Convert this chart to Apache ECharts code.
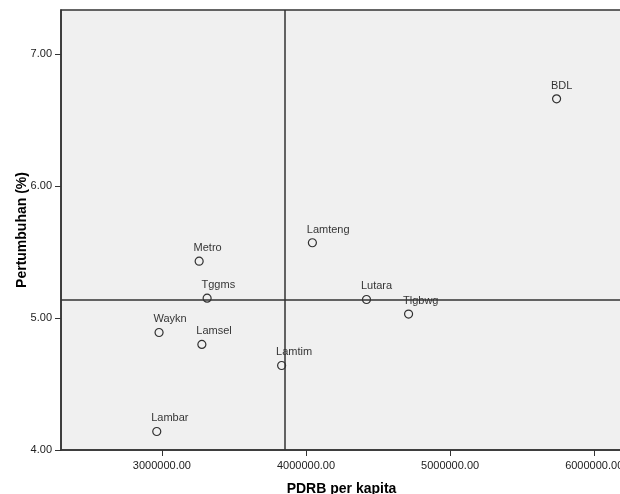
<!DOCTYPE html>
<html>
<head>
<meta charset="utf-8">
<script src="https://cdn.jsdelivr.net/npm/echarts@6/dist/echarts.min.js"></script>
<style>html,body{margin:0;padding:0;background:#fff}#c{width:620px;height:494px}</style>
</head>
<body>
<div id="c"></div>
<script>
var names = ['Metro','Tggms','Lamteng','Lutara','Tlgbwg','Waykn','Lamsel','Lamtim','Lambar','BDL'];
var pdrb = [3258700, 3314000, 4044500, 4420000, 4712000, 2980500, 3277500, 3831000, 2964500, 5739000];
var growth = [5.43, 5.15, 5.57, 5.14, 5.03, 4.89, 4.80, 4.64, 4.14, 6.66];
var xTicks = [3000000, 4000000, 5000000, 6000000];
var yTicks = [4, 5, 6, 7];
var refX = 3853000;
var refY = 5.144;

var data = names.map(function(n, i){ return {name: n, value: [pdrb[i], growth[i]]}; });
var chart = echarts.init(document.getElementById('c'));
var font = 'Liberation Sans, Arial, sans-serif';
chart.setOption({
  animation: false,
  grid: {left: 61, right: -2, top: 10, bottom: 44, outerBoundsMode: 'none', containLabel: false,
    show: true, backgroundColor: '#f0f0f0', borderColor: '#333', borderWidth: 1.5},
  xAxis: {
    type: 'value', min: 2300000, max: 6193000,
    name: 'PDRB per kapita', nameLocation: 'middle', nameGap: 32, nameMoveOverlap: false,
    nameTextStyle: {fontFamily: font, fontWeight: 'bold', fontSize: 14, color: '#000'},
    axisLine: {show: true, lineStyle: {color: '#333', width: 1.5}},
    axisTick: {show: true, length: 6, customValues: xTicks, lineStyle: {color: '#333'}},
    axisLabel: {customValues: xTicks, fontFamily: font, fontSize: 11, color: '#222', margin: 10,
      hideOverlap: false, showMaxLabel: true,
      formatter: function(v){ return v.toFixed(2); }},
    splitLine: {show: false}
  },
  yAxis: {
    type: 'value', min: 4, max: 7.333,
    name: 'Pertumbuhan (%)', nameLocation: 'middle', nameGap: 32, nameMoveOverlap: false,
    nameTextStyle: {fontFamily: font, fontWeight: 'bold', fontSize: 14, color: '#000'},
    axisLine: {show: true, lineStyle: {color: '#333', width: 1.5}},
    axisTick: {show: true, length: 6, customValues: yTicks, lineStyle: {color: '#333'}},
    axisLabel: {customValues: yTicks, fontFamily: font, fontSize: 11, color: '#222', margin: 9,
      formatter: function(v){ return v.toFixed(2); }},
    splitLine: {show: false}
  },
  series: [{
    type: 'scatter',
    data: data,
    symbol: 'circle', symbolSize: 8,
    itemStyle: {color: 'rgba(0,0,0,0)', borderColor: '#000', borderWidth: 1.2},
    label: {show: true, position: [-1, -14], align: 'left', verticalAlign: 'top',
      formatter: '{b}', fontFamily: font, fontSize: 11, color: '#000'},
    markLine: {
      silent: true, symbol: 'none', animation: false,
      label: {show: false},
      lineStyle: {color: '#333', width: 1.5, type: 'solid'},
      data: [{xAxis: refX}, {yAxis: refY}]
    }
  }]
});
</script>
</body>
</html>
